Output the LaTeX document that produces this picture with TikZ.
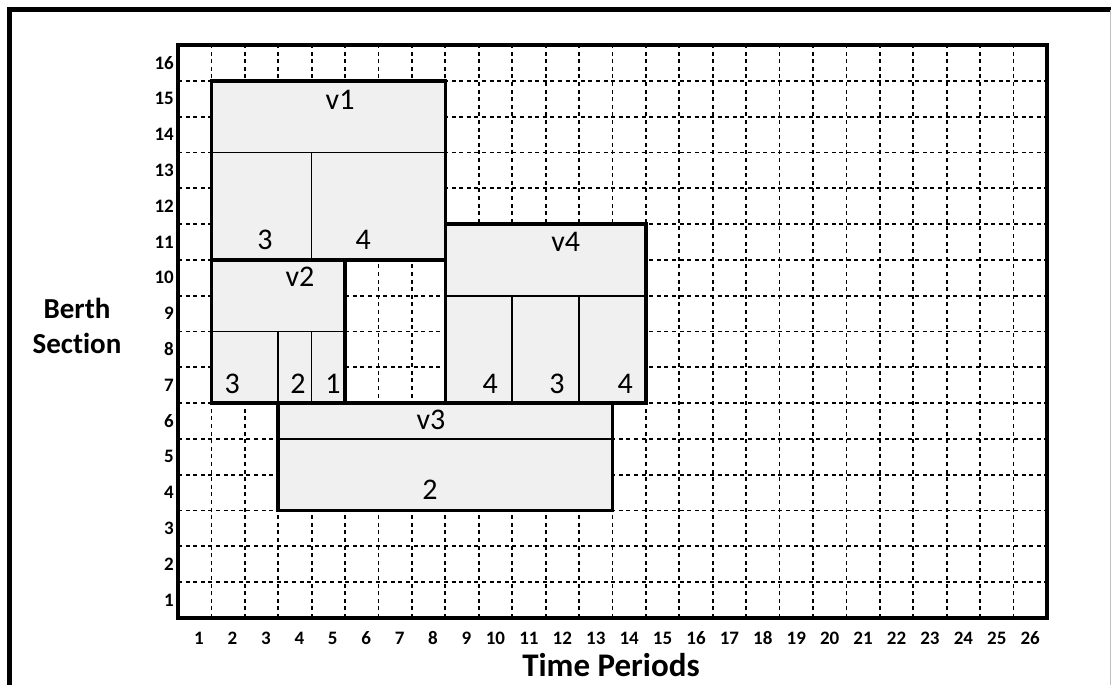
\documentclass[tikz,border=0pt]{standalone}
\usepackage{fontspec}
\setmainfont{Carlito}[Ligatures={NoCommon}]
\tikzset{
  gridline/.style={line width=1.8pt, dash pattern=on 4pt off 3.6pt},
  slot/.style={line width=3.6pt, fill=black!6, line join=miter},
  divider/.style={line width=1.6pt},
  frameline/.style={line width=4.5pt},
  axisnum/.style={font=\fontsize{19}{19}\selectfont\bfseries, inner sep=0pt},
  boxlabel/.style={font=\fontsize{30}{30}\selectfont, inner sep=0pt},
  axistitle/.style={font=\fontsize{29}{35}\selectfont\bfseries, align=center, inner sep=0pt},
}
\begin{document}
\begin{tikzpicture}[x=1pt,y=1pt]
\useasboundingbox (0,0) rectangle (1111,685);
% outer border of the figure
\draw[frameline] (9.5,-10) -- (9.5,675.5) -- (1120,675.5);
\draw[black!25, line width=1pt] (1110.5,675) -- (1110.5,-10);

% chart area in grid units: one column per time period, one row per berth section
\begin{scope}[shift={(178,67)}, x=33.42pt, y=35.81pt]
  \foreach \i in {1,...,25} \draw[gridline] (\i,0) -- (\i,16);
  \foreach \j in {1,...,15} \draw[gridline] (0,\j) -- (26,\j);

  % vessel v1
  \draw[slot] (1,10) rectangle (8,15);
  \draw[divider] (1,13) -- (8,13);
  \draw[divider] (4,10) -- (4,13);
  % vessel v2
  \draw[slot] (1,6) rectangle (5,10);
  \draw[divider] (1,8) -- (5,8);
  \draw[divider] (3,6) -- (3,8);
  \draw[divider] (4,6) -- (4,8);
  % vessel v4
  \draw[slot] (8,6) rectangle (14,11);
  \draw[divider] (8,9) -- (14,9);
  \draw[divider] (10,6) -- (10,9);
  \draw[divider] (12,6) -- (12,9);
  % vessel v3
  \draw[slot] (3,3) rectangle (13,6);
  \draw[divider] (3,5) -- (13,5);

  % labels inside the vessel blocks
  \node[boxlabel] (v1)  at (4.85,14.47) {v1};
  \node[boxlabel] (v1a) at (2.60,10.56) {3};
  \node[boxlabel] (v1b) at (5.54,10.56) {4};
  \node[boxlabel] (v2)  at (3.65,9.52) {v2};
  \node[boxlabel] (v2a) at (1.62,6.53) {3};
  \node[boxlabel] (v2b) at (3.59,6.53) {2};
  \node[boxlabel] (v2c) at (4.64,6.53) {1};
  \node[boxlabel] (v4)  at (11.60,10.50) {v4};
  \node[boxlabel] (v4a) at (9.34,6.53) {4};
  \node[boxlabel] (v4b) at (11.34,6.53) {3};
  \node[boxlabel] (v4c) at (13.38,6.53) {4};
  \node[boxlabel] (v3)  at (7.57,5.53) {v3};
  \node[boxlabel] (v3a) at (7.54,3.57) {2};

  \draw[frameline] (0,0) rectangle (26,16);

  % axis numbers
  \foreach \j in {1,...,16}
    \node[axisnum, anchor=east] (ylab\j) at (-0.12,\j-0.5) {\j};
  \foreach \i in {1,...,9}
    \node[axisnum, anchor=base] (xlab\i) at (\i-0.37,-0.754) {\i};
  \foreach \i in {10,...,26}
    \node[axisnum, anchor=base] (xlab\i) at (\i-0.50,-0.754) {\i};
\end{scope}

% axis titles
\node[axistitle] (ytitle) at (77,359) {Berth\\Section};
\node[axistitle, anchor=base, font=\fontsize{33}{33}\selectfont\bfseries] (xtitle) at (611,8) {Time Periods};
\end{tikzpicture}
\end{document}
